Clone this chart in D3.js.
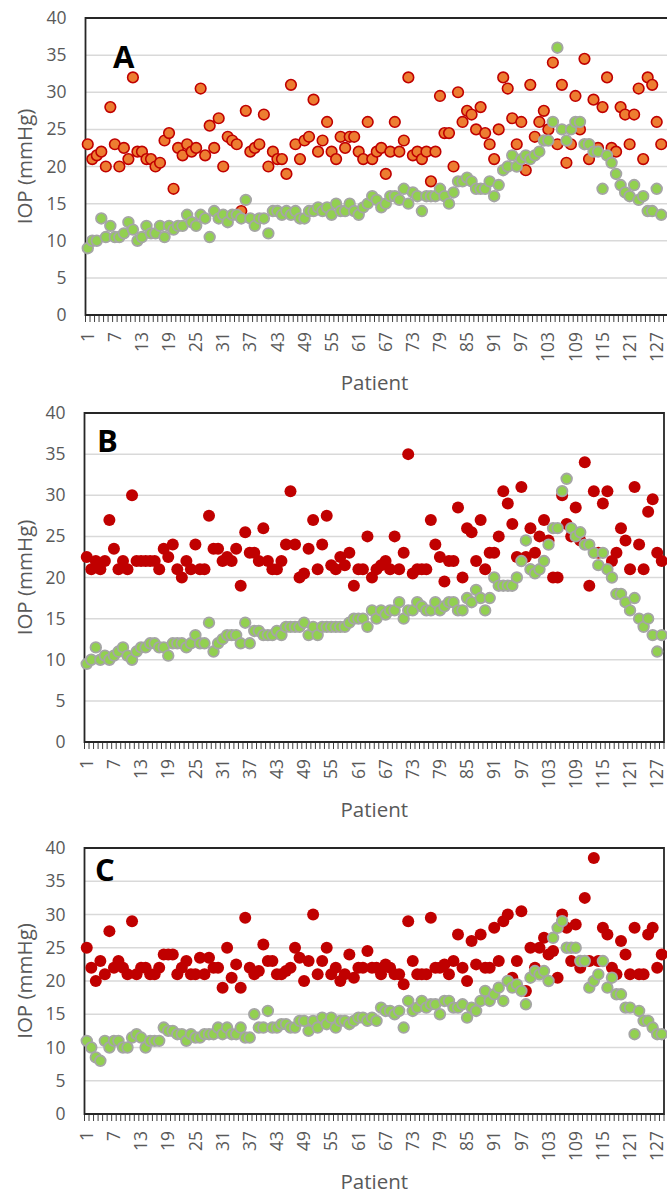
<!DOCTYPE html>
<html lang="en">
<head>
  <meta charset="UTF-8">
  <script src="https://d3js.org/d3.v7.min.js"></script>
  <title>IOP per patient</title>
  <style>
    body {
      margin: 0;
      background: #fff;
    }
    svg {
      display: block;
    }
    text {
      font-family: "Open Sans", sans-serif;
      fill: #595959;
    }
  </style>
</head>
<body>
<script>
  // Categories and tick labels
  const patients = d3.range(1, 129);            // patient 1..128
  const xTickLabels = d3.range(1, 129, 6);      // 1, 7, 13, ... 127
  const yTicks = [0, 5, 10, 15, 20, 25, 30, 35, 40];

  // Panel A (orange = upper series, green = lower series)
  const aUpper = [
    23, 21, 21.5, 22, 20, 28, 23, 20, 22.5, 21,
    32, 22, 22, 21, 21, 20, 20.5, 23.5, 24.5, 17,
    22.5, 21.5, 23, 22, 22.5, 30.5, 21.5, 25.5, 22.5, 26.5,
    20, 24, 23.5, 23, 14, 27.5, 22, 22.5, 23, 27,
    20, 22, 21, 21, 19, 31, 23, 21, 23.5, 24,
    29, 22, 23.5, 26, 22, 21, 24, 22.5, 24, 24,
    22, 21, 26, 21, 22, 22.5, 19, 22, 26, 22,
    23.5, 32, 21.5, 22, 21, 22, 18, 22, 29.5, 24.5,
    24.5, 20, 30, 26, 27.5, 27, 25, 28, 24.5, 23,
    21, 25, 32, 30.5, 26.5, 23, 26, 19.5, 31, 24,
    26, 27.5, 25, 34, 23, 31, 20.5, 23, 29.5, 25,
    34.5, 21, 29, 22.5, 28, 32, 22.5, 22, 28, 27,
    23, 27, 30.5, 21, 32, 31, 26, 23
  ];
  const aLower = [
    9, 10, 10, 13, 10.5, 12, 10.5, 10.5, 11, 12.5,
    11.5, 10, 10.5, 12, 11, 11, 12, 10.5, 12, 11.5,
    12, 12, 13.5, 12.5, 12, 13.5, 13, 10.5, 14, 13,
    13.5, 12.5, 13.5, 13.5, 13, 15.5, 13, 12, 13, 13,
    11, 14, 14, 13.5, 14, 13.5, 14, 13, 13, 14,
    14, 14.5, 14, 14.5, 13.5, 15, 14, 14, 15, 14,
    13.5, 14.5, 15, 16, 15.5, 14.5, 15, 16, 16, 15.5,
    17, 15, 16.5, 16, 14, 16, 16, 16, 17, 16,
    15, 16.5, 18, 18, 18.5, 18, 17, 17, 17, 18,
    16, 17.5, 19.5, 20, 21.5, 20, 21, 21.5, 21, 21.5,
    22, 23.5, 23.5, 26, 36, 25, 23.5, 25, 26, 26,
    23, 23, 22, 22, 17, 21.5, 20.5, 19, 17.5, 16.5,
    16, 17.5, 15.5, 16, 14, 14, 17, 13.5
  ];

  // Panel B
  const bUpper = [
    22.5, 21, 22, 21, 22, 27, 23.5, 21, 22, 21,
    30, 22, 22, 22, 22, 22, 21, 23.5, 22.5, 24,
    21, 20, 22, 21, 24, 21, 21, 27.5, 23.5, 23.5,
    22, 22.5, 22, 23.5, 19, 25.5, 23, 23, 22, 26,
    22, 21, 21, 22, 24, 30.5, 24, 20, 20.5, 23.5,
    27, 21, 24, 27.5, 21.5, 21, 22.5, 21.5, 23, 19,
    21, 21, 25, 20, 21, 21.5, 22, 21, 25, 21,
    23, 35, 20.5, 21, 21, 21, 27, 24, 22.5, 19.5,
    22, 22, 28.5, 20, 26, 25.5, 22, 27, 21, 23,
    23, 25, 30.5, 29, 26.5, 22.5, 31, 22.5, 26, 23,
    25, 27, 24.5, 20, 20, 30, 26.5, 25, 28.5, 24.5,
    34, 19, 30.5, 23, 29, 30.5, 22, 23, 26, 24.5,
    21, 31, 24, 21, 28, 29.5, 23, 22
  ];
  const bLower = [
    9.5, 10, 11.5, 10, 10.5, 10, 10.5, 11, 11.5, 10.5,
    10, 11, 11.5, 11.5, 12, 12, 11.5, 11.5, 10.5, 12,
    12, 12, 11.5, 12, 13, 12, 12, 14.5, 11, 12,
    12.5, 13, 13, 13, 12, 14.5, 12, 13.5, 13.5, 13,
    13, 13, 13.5, 13, 14, 14, 14, 14, 14.5, 13,
    14, 13, 14, 14, 14, 14, 14, 14, 14.5, 15,
    15, 15, 14, 16, 15, 16, 15.5, 16, 16, 17,
    15, 16, 16, 17, 16.5, 16, 16, 17, 16, 16.5,
    17, 17, 16, 16, 17.5, 17, 18.5, 17.5, 16, 17.5,
    20, 19, 19, 19, 19, 20, 22, 24.5, 21, 20.5,
    21, 22, 24, 26, 26, 30.5, 32, 26, 25, 25.5,
    24, 24, 23, 21.5, 23, 21, 20, 18, 18, 17,
    16, 17.5, 15, 14, 15, 13, 11, 13
  ];

  // Panel C
  const cUpper = [
    25, 22, 20, 23, 21, 27.5, 22, 23, 22, 21,
    29, 21, 22, 22, 21, 21, 22, 24, 24, 24,
    21, 22, 23, 21, 21, 23.5, 21, 23.5, 22, 22,
    19, 25, 20.5, 22.5, 19, 29.5, 22, 21, 21.5, 25.5,
    23, 23, 21, 21, 21.5, 22, 25, 23.5, 20, 23,
    30, 21, 23, 25, 21, 22, 20, 21, 24, 20.5,
    22, 22, 24.5, 22, 22, 21, 22.5, 22, 21, 21,
    19.5, 29, 23, 21, 21, 21, 29.5, 22, 22, 22.5,
    21, 23, 27, 22, 20, 26, 22.5, 27, 22, 22,
    28, 23, 29, 30, 20.5, 23, 30.5, 18.5, 25, 22,
    25, 26.5, 24, 24.5, 20.5, 30, 28, 23, 28.5, 22,
    32.5, 23, 38.5, 23, 28, 27, 22, 21, 26, 24,
    21, 28, 21, 21, 27, 28, 22, 24
  ];
  const cLower = [
    11, 10, 8.5, 8, 11, 10, 11, 11, 10, 10,
    11.5, 12, 11.5, 10, 11, 11, 11, 13, 12.5, 12.5,
    12, 12, 11, 12, 11.5, 11.5, 12, 12, 12, 13,
    12, 13, 12, 12, 13, 11.5, 11.5, 15, 13, 13,
    15.5, 13, 13, 13.5, 13.5, 13, 13, 14, 14, 12.5,
    14, 13, 14.5, 13.5, 14.5, 13, 14, 14, 13.5, 14,
    14.5, 14.5, 14, 14.5, 14, 16, 15.5, 15.5, 15, 15.5,
    13, 17, 15.5, 16, 17, 16, 16.5, 16.5, 15, 17,
    17, 16, 16, 16.5, 14.5, 16, 15.5, 17, 18.5, 17,
    18, 19, 17, 20, 19, 19.5, 18.5, 16.5, 20.5, 21.5,
    21, 21.5, 20, 26.5, 28, 29, 25, 25, 25, 23,
    23, 19, 20, 21, 23, 19, 20.5, 18, 18, 16,
    16, 12, 15.5, 14, 14, 13, 12, 12
  ];

  // Layout of the three stacked panels (panel A's right border runs off the page)
  const panels = [
    { name: "A", upper: aUpper, lower: aLower, upperFill: "#ed7d31", upperStroke: "#c00000",
      top: 18, bottom: 315, left: 85.5, right: 663.5, rightBorder: false, labelX: 113, labelY: 68 },
    { name: "B", upper: bUpper, lower: bLower, upperFill: "#c00000", upperStroke: "none",
      top: 413, bottom: 742, left: 84.5, right: 664, rightBorder: true, labelX: 97, labelY: 452 },
    { name: "C", upper: cUpper, lower: cLower, upperFill: "#c00000", upperStroke: "none",
      top: 848, bottom: 1114, left: 84.5, right: 664, rightBorder: true, labelX: 95, labelY: 881 }
  ];

  const tickFont = 17.5;
  const titleFont = 20.5;

  const svg = d3.select("body").append("svg")
    .attr("width", 667)
    .attr("height", 1195);

  panels.forEach(p => {
    const g = svg.append("g");

    const x = d3.scaleBand().domain(patients).range([p.left, p.right]);
    const y = d3.scaleLinear().domain([0, 40]).range([p.bottom, p.top]);
    const cx = d => x(d) + x.bandwidth() / 2;
    const edge = p.rightBorder ? p.right : 667;

    // Horizontal gridlines
    g.append("g")
      .selectAll("line")
      .data(yTicks.filter(t => t > 0 && t < 40))
      .join("line")
      .attr("x1", p.left)
      .attr("x2", edge)
      .attr("y1", d => y(d))
      .attr("y2", d => y(d))
      .attr("stroke", "#d9d9d9")
      .attr("stroke-width", 1.5);

    // Y axis labels
    const yAxis = g.append("g")
      .attr("transform", `translate(${p.left},0)`)
      .call(d3.axisLeft(y).tickValues(yTicks).tickSize(0).tickPadding(19));
    yAxis.select(".domain").remove();
    yAxis.selectAll("text")
      .attr("font-size", tickFont)
      .attr("font-family", "'Open Sans', sans-serif")
      .attr("fill", "#595959");

    // Small tick marks between every patient
    g.append("g")
      .selectAll("line")
      .data(patients.map(d => x(d)).concat([p.right]))
      .join("line")
      .attr("x1", d => d)
      .attr("x2", d => d)
      .attr("y1", p.bottom)
      .attr("y2", p.bottom + 7)
      .attr("stroke", "#404040")
      .attr("stroke-width", 1);

    // X axis labels (every 6th patient, rotated)
    const xAxis = g.append("g")
      .attr("transform", `translate(0,${p.bottom})`)
      .call(d3.axisBottom(x).tickValues(xTickLabels).tickSize(0));
    xAxis.select(".domain").remove();
    xAxis.selectAll("text")
      .attr("transform", "rotate(-90)")
      .attr("x", -17)
      .attr("y", 0)
      .attr("dy", "0.35em")
      .attr("text-anchor", "end")
      .attr("font-size", tickFont)
      .attr("font-family", "'Open Sans', sans-serif")
      .attr("fill", "#595959");

    // Plot frame
    const frame = d3.path();
    frame.moveTo(edge, p.top);
    frame.lineTo(p.left, p.top);
    frame.lineTo(p.left, p.bottom);
    frame.lineTo(edge, p.bottom);
    if (p.rightBorder) frame.closePath();
    g.append("path")
      .attr("d", frame.toString())
      .attr("fill", "none")
      .attr("stroke", "#262626")
      .attr("stroke-width", 1.8);

    // Upper series
    g.append("g")
      .selectAll("circle")
      .data(p.upper)
      .join("circle")
      .attr("cx", (d, i) => cx(patients[i]))
      .attr("cy", d => y(d))
      .attr("r", p.upperStroke === "none" ? 6 : 5.3)
      .attr("fill", p.upperFill)
      .attr("stroke", p.upperStroke)
      .attr("stroke-width", 1.6);

    // Lower series (green, drawn on top)
    g.append("g")
      .selectAll("circle")
      .data(p.lower)
      .join("circle")
      .attr("cx", (d, i) => cx(patients[i]))
      .attr("cy", d => y(d))
      .attr("r", 5.3)
      .attr("fill", "#92d050")
      .attr("stroke", "#a5a5a5")
      .attr("stroke-width", 1.8);

    // Panel letter
    g.append("text")
      .attr("x", p.labelX)
      .attr("y", p.labelY)
      .attr("font-family", "'Liberation Sans', Arial, sans-serif")
      .attr("font-weight", "bold")
      .attr("font-size", 31)
      .style("fill", "#000")
      .text(p.name);

    // Axis titles
    g.append("text")
      .attr("transform", `translate(25,${(p.top + p.bottom) / 2}) rotate(-90)`)
      .attr("text-anchor", "middle")
      .attr("dy", "0.35em")
      .attr("font-size", titleFont)
      .text("IOP (mmHg)");

    g.append("text")
      .attr("x", (p.left + p.right) / 2)
      .attr("y", p.bottom + 75)
      .attr("text-anchor", "middle")
      .attr("font-size", titleFont)
      .text("Patient");
  });
</script>
</body>
</html>
